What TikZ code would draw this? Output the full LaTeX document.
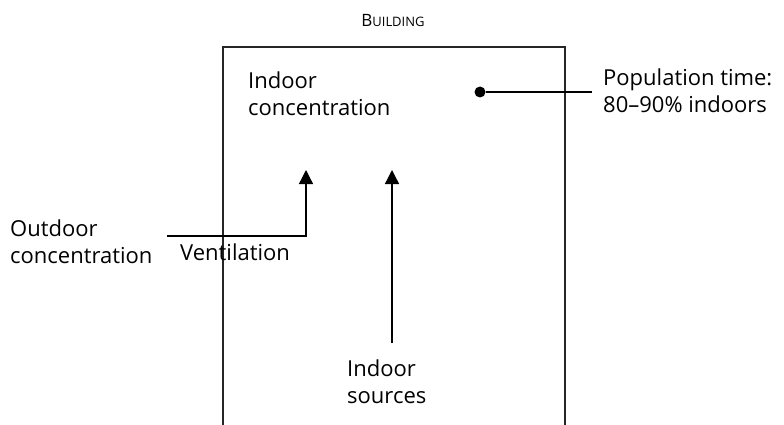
\documentclass[tikz,border=0pt]{standalone}
\usepackage{fontspec}
\setmainfont{Open Sans}
\usetikzlibrary{arrows.meta}

\tikzset{
  txt/.style={anchor=base west, align=left, inner sep=0pt, font=\fontsize{22}{27}\selectfont},
  flow/.style={-{Triangle[length=14pt,width=14pt]}, line width=1.3pt},
  wall/.style={line width=1.4pt, black!85},
}

\begin{document}
\begin{tikzpicture}[x=1pt,y=-1pt]
\useasboundingbox (0,0) rectangle (784,425);

%building outline
\coordinate (bl) at (223,425);
\coordinate (tl) at (223,47);
\coordinate (tr) at (565,47);
\coordinate (br) at (565,425);
\draw[wall] (bl) -- (tl) -- (tr) -- (br);
\node [anchor=base, inner sep=0pt, font=\fontsize{17}{20}\selectfont] (building) at (393,27) {B{\fontsize{13}{16}\selectfont UILDING}};

%labels (anchored at the baseline of the last line)
\node [txt] (indoorconc) at (248,116) {Indoor\\concentration};
\node [txt] (outdoorconc) at (10,263) {Outdoor\\concentration};
\node [txt] (vent) at (180,260) {Ventilation};
\node [txt] (sources) at (347,403) {Indoor\\sources};
\node [txt] (poptime) at (603,113) {Population time:\\80--90\% indoors};

%population marker
\node [circle, fill, inner sep=0pt, minimum size=11pt] (dot) at (480,92) {};
\coordinate (popend) at (592,92);
\draw[line width=1.3pt] (dot) -- (popend);

%flows into the building
\coordinate (ventstart) at (167,236);
\coordinate (venttip) at (306,170);
\draw[flow] (ventstart) -| (venttip);
\coordinate (srcstart) at (392,343);
\coordinate (srctip) at (392,170);
\draw[flow] (srcstart) -- (srctip);

\end{tikzpicture}
\end{document}
